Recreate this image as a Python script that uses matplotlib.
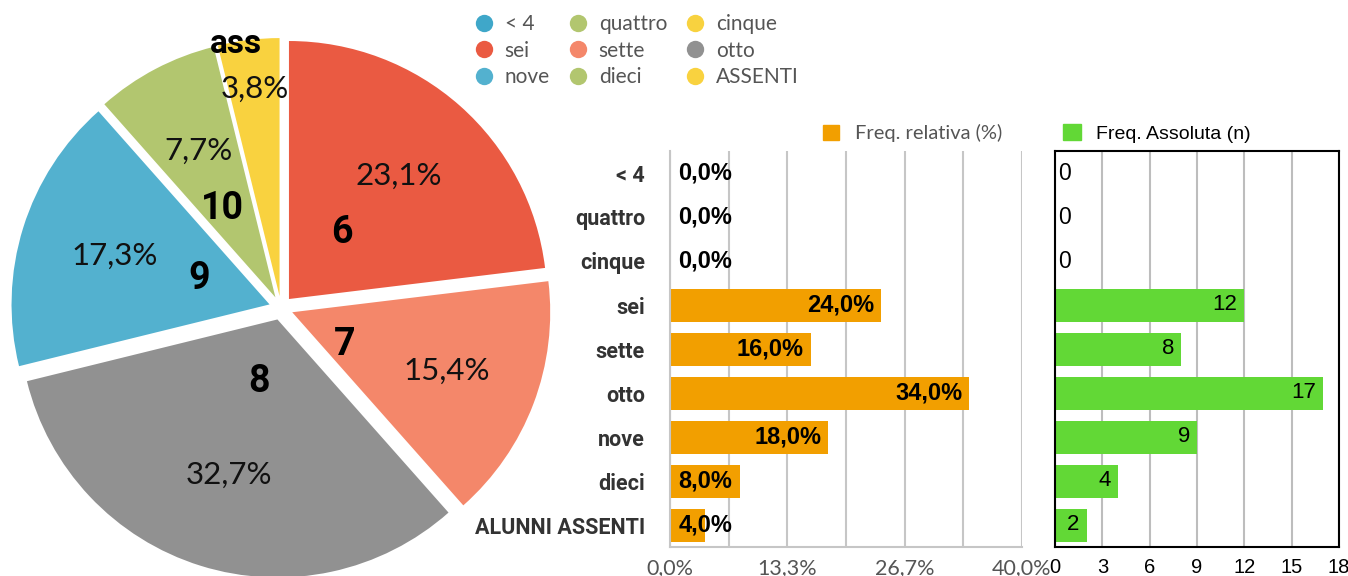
import matplotlib
matplotlib.use("Agg")
import matplotlib.pyplot as plt
import numpy as np
from matplotlib.lines import Line2D
from matplotlib.patches import Patch


# categories (bar charts, top to bottom)
CATEGORIES = ["< 4", "quattro", "cinque", "sei", "sette", "otto",
              "nove", "dieci", "ALUNNI ASSENTI"]
LEGEND_NAMES = ["< 4", "quattro", "cinque", "sei", "sette", "otto",
                "nove", "dieci", "ASSENTI"]
PIE_SHORT = ["", "", "", "6", "7", "8", "9", "10", "ass"]

COUNTS = [0, 0, 0, 12, 8, 17, 9, 4, 2]
REL_FREQ = [0.0, 0.0, 0.0, 24.0, 16.0, 34.0, 18.0, 8.0, 4.0]

PIE_COLORS = ["#3fa7c9", "#b2c66f", "#f8d23f", "#ea5a42", "#f4876a",
              "#919191", "#53b1cf", "#b2c66f", "#f9d23f"]

REL_TICKS = [0, 40 / 3, 80 / 3, 40]
REL_TICK_LABELS = ["0,0%", "13,3%", "26,7%", "40,0%"]
ABS_TICKS = [0, 3, 6, 9, 12, 15, 18]

ORANGE = "#f29f00"
GREEN = "#62d836"
GRID = "#c6c6c6"

W, H = 1348, 576


def fx(px):
    return px / W


def fy(px_from_top):
    return 1 - px_from_top / H


fig = plt.figure(figsize=(W / 100, H / 100), dpi=100)

# ---- pie -------------------------------------------------------------
R = 258
cx, cy = 281, 308
pie_w = 620
ax_pie = fig.add_axes([0, 0, fx(pie_w), 1])
wedges, _ = ax_pie.pie(
    COUNTS,
    colors=PIE_COLORS,
    startangle=90,
    counterclock=False,
    explode=[0.0465] * len(COUNTS),
    wedgeprops=dict(linewidth=0),
)
ax_pie.set_xlim(-cx / R, (pie_w - cx) / R)
ax_pie.set_ylim(-(H - cy) / R, cy / R)
ax_pie.set_aspect("auto")
ax_pie.axis("off")

total = sum(COUNTS)
# (radius for pct, radius for number, angle shift for number)
label_place = {
    "6": (0.64, 0.33, 3),
    "7": (0.64, 0.24, -11),
    "8": (0.63, 0.25, 1),
    "9": (0.63, 0.29, -3),
    "10": (0.64, 0.40, 3),
    "ass": (0.81, 0.99, 3),
}
for w, n, short in zip(wedges, COUNTS, PIE_SHORT):
    if n == 0:
        continue
    mid = np.deg2rad((w.theta1 + w.theta2) / 2)
    ox, oy = w.center
    r_pct, r_num, shift = label_place[short]
    pct = f"{n / total * 100:.1f}%".replace(".", ",")
    ax_pie.text(ox + r_pct * np.cos(mid), oy + r_pct * np.sin(mid), pct,
                ha="center", va="center", fontsize=22.5, family="Lato",
                color="#111111")
    a2 = mid + np.deg2rad(shift)
    ax_pie.text(ox + r_num * np.cos(a2), oy + r_num * np.sin(a2), short,
                ha="center", va="center", fontsize=27 if short != "ass" else 24,
                family="Roboto", fontweight="bold", color="black")

# legend of the pie, 3 columns filled row-wise
order = [0, 3, 6, 1, 4, 7, 2, 5, 8]
handles = [Line2D([], [], marker="o", linestyle="", markersize=12.5,
                  markerfacecolor=PIE_COLORS[i], markeredgewidth=0)
           for i in order]
fig.legend(handles, [LEGEND_NAMES[i] for i in order], ncol=3,
           loc="upper left", bbox_to_anchor=(fx(465), fy(4)),
           frameon=False, borderpad=0, handlelength=0.8, handletextpad=0.6,
           columnspacing=0.95, labelspacing=0.3,
           prop=dict(family="Lato", size=15), labelcolor="#555555")

# ---- relative frequency bars ------------------------------------------
top, bottom = 151, 547
y = np.arange(len(CATEGORIES))

ax1 = fig.add_axes([fx(670), fy(bottom), fx(1022 - 670), (bottom - top) / H])
ax1.barh(y, REL_FREQ, height=0.75, color=ORANGE, zorder=2)
ax1.set_xlim(0, 40)
ax1.set_ylim(len(CATEGORIES) - 0.5, -0.5)
ax1.set_xticks(REL_TICKS)
ax1.set_xticklabels(REL_TICK_LABELS, family="Lato", fontsize=15.5, color="#555555")
ax1.set_xticks([40 / 6, 20, 200 / 6], minor=True)
ax1.set_yticks(y)
ax1.set_yticklabels(CATEGORIES, family="Roboto", fontweight="bold",
                    fontsize=15.5, color="#333333")
ax1.tick_params(axis="both", which="both", length=0)
ax1.tick_params(axis="x", pad=8)
ax1.tick_params(axis="y", pad=18)
ax1.grid(axis="x", which="both", color=GRID, linewidth=1.5, zorder=0)
for side in ["top", "right"]:
    ax1.spines[side].set_visible(False)
for side in ["left", "bottom"]:
    ax1.spines[side].set_color(GRID)
    ax1.spines[side].set_linewidth(1.5)

for yi, v in zip(y, REL_FREQ):
    txt = f"{v:.1f}%".replace(".", ",")
    if v >= 10:
        ax1.annotate(txt, (v, yi), xytext=(-5, 0), textcoords="offset points",
                     ha="right", va="center", fontsize=17, fontweight="bold",
                     family="Liberation Sans", zorder=3)
    else:
        ax1.annotate(txt, (0, yi), xytext=(6, 0), textcoords="offset points",
                     ha="left", va="center", fontsize=17, fontweight="bold",
                     family="Liberation Sans", zorder=3)

ax1.legend(handles=[Patch(color=ORANGE)], labels=["Freq. relativa (%)"],
           loc="center", bbox_to_anchor=(0.69, 1.045), frameon=False,
           handlelength=0.8, handleheight=0.8, handletextpad=0.8,
           borderpad=0, prop=dict(family="Lato", size=14.5), labelcolor="#555555")

# ---- absolute frequency bars ------------------------------------------
ax2 = fig.add_axes([fx(1055), fy(bottom), fx(1339 - 1055), (bottom - top) / H])
ax2.barh(y, COUNTS, height=0.75, color=GREEN, zorder=2)
ax2.set_xlim(0, 18)
ax2.set_ylim(len(CATEGORIES) - 0.5, -0.5)
ax2.set_xticks(ABS_TICKS)
ax2.set_xticklabels([str(t) for t in ABS_TICKS], family="Liberation Sans",
                    fontsize=14.5, color="black")
ax2.set_yticks([])
ax2.tick_params(axis="x", length=0, pad=8)
ax2.grid(axis="x", color="#bdbdbd", linewidth=1.5, zorder=0)
for side in ax2.spines.values():
    side.set_color("black")
    side.set_linewidth(1.5)

for yi, v in zip(y, COUNTS):
    if v > 0:
        ax2.annotate(str(v), (v, yi), xytext=(-5, 0), textcoords="offset points",
                     ha="right", va="center", fontsize=16,
                     family="Liberation Sans", zorder=3)
    else:
        ax2.annotate(str(v), (0, yi), xytext=(2, 0), textcoords="offset points",
                     ha="left", va="center", fontsize=16.5,
                     family="Liberation Sans", zorder=3)

ax2.legend(handles=[Patch(color=GREEN)], labels=["Freq. Assoluta (n)"],
           loc="center", bbox_to_anchor=(0.36, 1.045), frameon=False,
           handlelength=0.9, handleheight=0.9, handletextpad=0.8,
           borderpad=0, prop=dict(family="Liberation Sans", size=14),
           labelcolor="black")

fig.savefig("out.png", dpi=100)
